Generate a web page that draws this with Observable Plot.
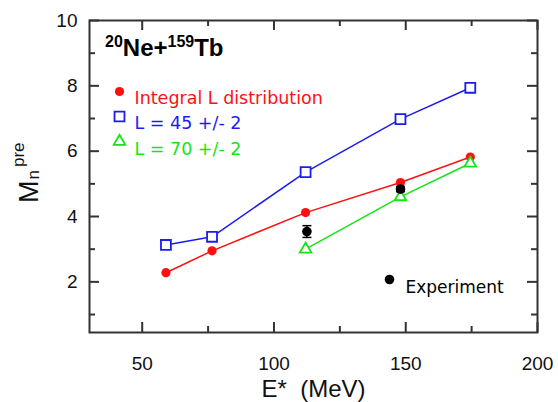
<!DOCTYPE html>
<html>
<head>
<meta charset="utf-8">
<script src="https://cdn.jsdelivr.net/npm/d3@7"></script>
<script src="https://cdn.jsdelivr.net/npm/@observablehq/plot@0.6"></script>
<style>
  html, body { margin: 0; padding: 0; background: #fff; }
  #chart svg { display: block; }
</style>
</head>
<body>
<div id="chart"></div>
<script>
// ---- data ----
const energies = [59, 76.5, 112, 148, 174.5];
const integralL = [2.28, 2.95, 4.12, 5.04, 5.82];
const l45 = [3.13, 3.38, 5.36, 6.98, 7.94];
const energiesL70 = [112, 148, 174.5];
const l70 = [3.0, 4.6, 5.63];
const expEnergies = [112.5, 148];
const expValues = [3.54, 4.84];
const expErrors = [0.18, 0.08];

const xMajor = [50, 100, 150, 200];
const xMinor = [75, 125, 175];
const yMajor = [2, 4, 6, 8, 10];
const yMinor = [1, 3, 5, 7, 9];

const legendLabels = ["Integral L distribution", "L = 45 +/- 2", "L = 70 +/- 2"];
const expLabel = "Experiment";

// ---- tables built from the arrays ----
const redData = energies.map((e, i) => ({x: e, y: integralL[i]}));
const blueData = energies.map((e, i) => ({x: e, y: l45[i]}));
const greenData = energiesL70.map((e, i) => ({x: e, y: l70[i]}));
const expData = expEnergies.map((e, i) => ({x: e, y: expValues[i], lo: expValues[i] - expErrors[i], hi: expValues[i] + expErrors[i]}));

// ---- layout ----
const W = 558, H = 402, mL = 89, mR = 21, mT = 20, mB = 70;
const FW = W - mL - mR, FH = H - mT - mB;
const MAJ = 10, MIN = 6;

const RED = "#ff1010", BLUE = "#1c1cf0", GREEN = "#14e614", AX = "#333";
const tickFont = "Liberation Sans, Arial, sans-serif";
const legFont = "DejaVu Sans, sans-serif";

const capSymbol = {draw(ctx) { ctx.moveTo(-4.5, 0); ctx.lineTo(4.5, 0); }};
const tickStyle = {stroke: AX, strokeWidth: 2};

const plot = Plot.plot({
  width: W,
  height: H,
  marginLeft: mL,
  marginRight: mR,
  marginTop: mT,
  marginBottom: mB,
  style: {fontFamily: tickFont, background: "#fff"},
  x: {domain: [30, 200]},
  y: {domain: [0.45, 10]},
  marks: [
    // tick labels
    Plot.axisX(xMajor, {anchor: "bottom", tickSize: 0, tickPadding: 24, fontSize: 19, fill: "#111", label: null}),
    Plot.axisY(yMajor, {anchor: "left", tickSize: 0, tickPadding: 12, fontSize: 19, fill: "#111", label: null}),
    Plot.frame({stroke: AX, strokeWidth: 2}),
    // inward ticks on all four sides
    Plot.tickX(xMajor, {x: d => d, insetTop: FH - MAJ, ...tickStyle}),
    Plot.tickX(xMinor, {x: d => d, insetTop: FH - MIN, ...tickStyle}),
    Plot.tickX(xMajor, {x: d => d, insetBottom: FH - MAJ, ...tickStyle}),
    Plot.tickX(xMinor, {x: d => d, insetBottom: FH - MIN, ...tickStyle}),
    Plot.tickY(yMajor, {y: d => d, insetRight: FW - MAJ, ...tickStyle}),
    Plot.tickY(yMinor, {y: d => d, insetRight: FW - MIN, ...tickStyle}),
    Plot.tickY(yMajor, {y: d => d, insetLeft: FW - MAJ, ...tickStyle}),
    Plot.tickY(yMinor, {y: d => d, insetLeft: FW - MIN, ...tickStyle}),

    // series
    Plot.line(redData, {x: "x", y: "y", stroke: RED, strokeWidth: 1.5}),
    Plot.line(blueData, {x: "x", y: "y", stroke: BLUE, strokeWidth: 1.5}),
    Plot.line(greenData, {x: "x", y: "y", stroke: GREEN, strokeWidth: 1.5}),
    Plot.dot(redData, {x: "x", y: "y", r: 4.6, fill: RED, stroke: null}),
    Plot.dot(blueData, {x: "x", y: "y", symbol: "square", r: 5.6, fill: "white", stroke: BLUE, strokeWidth: 1.8}),
    Plot.dot(greenData, {x: "x", y: "y", symbol: "triangle", r: 4.3, fill: "white", stroke: GREEN, strokeWidth: 1.8}),

    // experiment with error bars
    Plot.ruleX(expData, {x: "x", y1: "lo", y2: "hi", stroke: "#000", strokeWidth: 1.5}),
    Plot.dot(expData, {x: "x", y: "lo", symbol: capSymbol, stroke: "#000", strokeWidth: 1.5}),
    Plot.dot(expData, {x: "x", y: "hi", symbol: capSymbol, stroke: "#000", strokeWidth: 1.5}),
    Plot.dot(expData, {x: "x", y: "y", r: 4.8, fill: "#000", stroke: null}),

    // legend (inside frame)
    Plot.dot([0], {x: null, y: null, frameAnchor: "top-left", dx: 30, dy: 71, r: 4.6, fill: RED, stroke: null}),
    Plot.dot([0], {x: null, y: null, frameAnchor: "top-left", dx: 30, dy: 96, r: 5.6, symbol: "square", fill: "white", stroke: BLUE, strokeWidth: 1.8}),
    Plot.dot([0], {x: null, y: null, frameAnchor: "top-left", dx: 30, dy: 121, r: 4.3, symbol: "triangle", fill: "white", stroke: GREEN, strokeWidth: 1.8}),
    Plot.text([legendLabels[0]], {frameAnchor: "top-left", dx: 45, dy: 71.5, text: d => d, textAnchor: "start", fill: RED, fontSize: 17.5, fontFamily: legFont}),
    Plot.text([legendLabels[1]], {frameAnchor: "top-left", dx: 45, dy: 96.5, text: d => d, textAnchor: "start", fill: BLUE, fontSize: 17.5, fontFamily: legFont}),
    Plot.text([legendLabels[2]], {frameAnchor: "top-left", dx: 45, dy: 122, text: d => d, textAnchor: "start", fill: GREEN, fontSize: 17.5, fontFamily: legFont}),
    Plot.dot([0], {x: null, y: null, frameAnchor: "top-left", dx: 300, dy: 259, r: 4.8, fill: "#000", stroke: null}),
    Plot.text([expLabel], {frameAnchor: "top-left", dx: 316, dy: 260, text: d => d, textAnchor: "start", fill: "#000", fontSize: 17, fontFamily: legFont}),

    // x-axis label
    Plot.text(["E*  (MeV)"], {frameAnchor: "bottom", dy: 64, text: d => d, fill: "#111", fontSize: 24, fontFamily: tickFont})
  ]
});

document.getElementById("chart").appendChild(plot);

// title and y label with sub/superscripts
const svg = d3.select(plot);
const title = svg.append("text")
  .attr("x", 105).attr("y", 56)
  .attr("text-anchor", "start")
  .attr("font-family", tickFont).attr("font-weight", "bold").attr("fill", "#000");
title.append("tspan").attr("font-size", 16).attr("dy", -9).text("20");
title.append("tspan").attr("font-size", 24).attr("dy", 9).text("Ne+");
title.append("tspan").attr("font-size", 16).attr("dy", -9).text("159");
title.append("tspan").attr("font-size", 24).attr("dy", 9).text("Tb");

const ylab = svg.append("text")
  .attr("transform", "translate(38,203) rotate(-90)")
  .attr("text-anchor", "start")
  .attr("font-family", tickFont).attr("fill", "#111");
ylab.append("tspan").attr("font-size", 27).text("M");
ylab.append("tspan").attr("font-size", 17).attr("dx", 1).attr("dy", 1).text("n");
ylab.append("tspan").attr("font-size", 17).attr("dx", 3).attr("dy", -15).text("pre");
</script>
</body>
</html>
